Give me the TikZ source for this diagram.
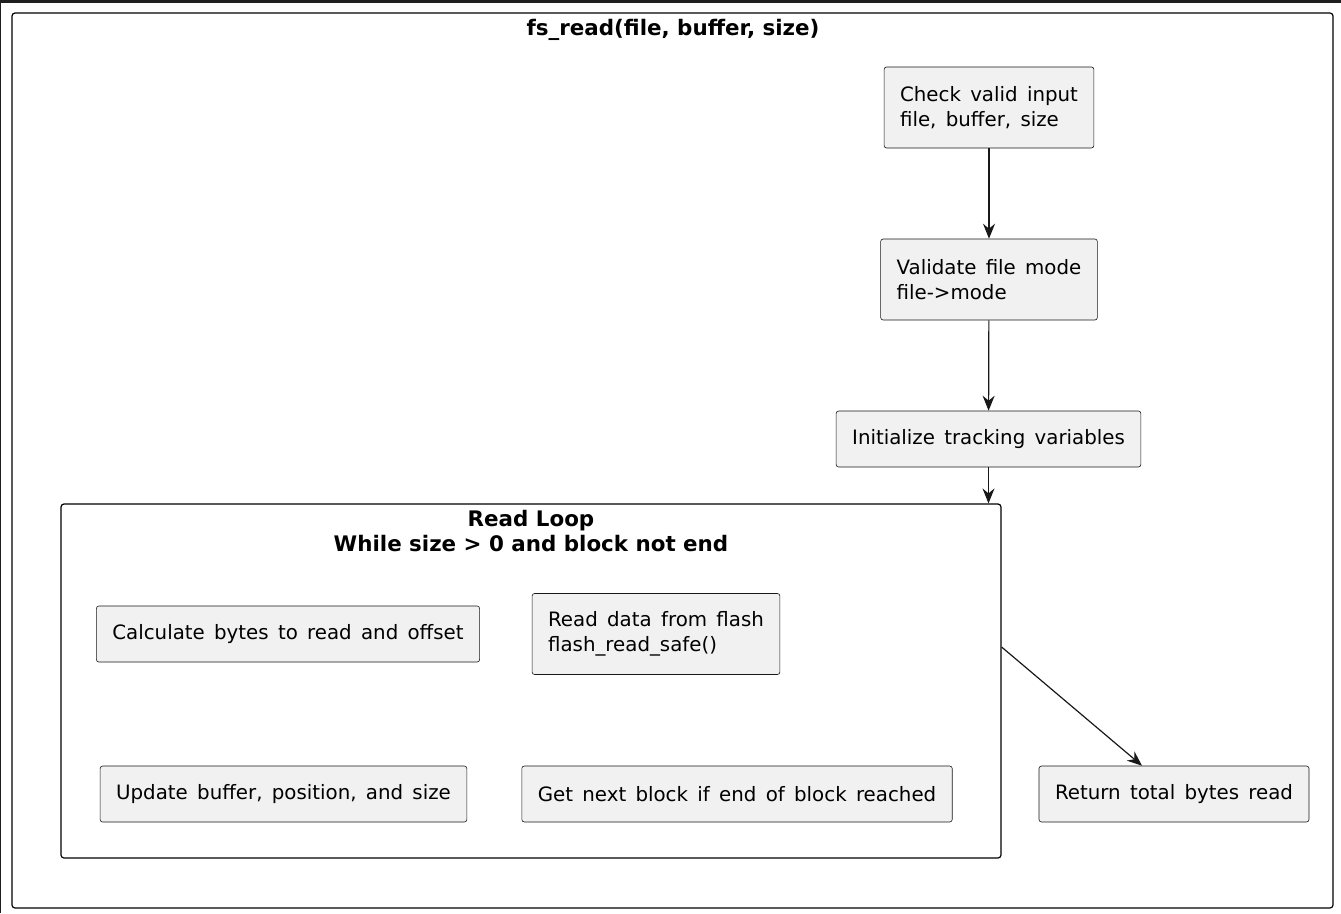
\documentclass[tikz,border=0pt]{standalone}
\usepackage{fontspec}
\setmainfont{DejaVu Sans}
\usetikzlibrary{arrows.meta,positioning}
\definecolor{actfill}{HTML}{F1F1F1}
\definecolor{actline}{HTML}{181818}
\newcommand\actfont{\fontsize{19.8}{25}\selectfont\setlength\spaceskip{9.3pt}}
\tikzset{
  act/.style={draw=actline, fill=actfill, line width=0.6pt, rounded corners=2.5pt, inner xsep=16pt, align=left, font=\actfont, minimum height=56pt},
  act2/.style={act, minimum height=81pt},
  frame/.style={draw=black, line width=1.2pt, rounded corners=3pt},
  flow/.style={-{Stealth[length=15pt,width=12pt,inset=5pt]}, line width=1.2pt, actline},
  ttl/.style={font=\bfseries\fontsize{21.4}{25}\selectfont, align=center}
}
\begin{document}
\begin{tikzpicture}[x=1pt,y=-1pt]
\useasboundingbox (0,0) rectangle (1341,913);
\fill[black!88] (0,0) rectangle (1341,3);
\fill[black!88] (0,0) rectangle (1,913);
\draw[frame] (12,13) rectangle (1333,908);
\node[ttl] (title) at (673,30) {fs\_read(file, buffer, size)};
\node[frame, minimum width=940pt, minimum height=354pt, inner sep=0pt] (loop) at (531,681) {};
\node[ttl] (looptitle) at (531,531.5) {Read Loop\\While size > 0 and block not end};
\node[act2] (chk) at (989,107.5) {Check valid input\\file, buffer, size};
\node[act2] (val) at (989,279.5) {Validate file mode\\file->mode};
\node[act] (init) at (988.5,439) {Initialize tracking variables};
\node[act] (calc) at (288,634) {Calculate bytes to read and offset};
\node[act2] (rdata) at (656,634) {Read data from flash\\flash\_read\_safe()};
\node[act] (upd) at (283.5,794) {Update buffer, position, and size};
\node[act] (nxt) at (737,794) {Get next block if end of block reached};
\node[act] (ret) at (1174,794) {Return total bytes read};
\draw[flow] (chk) -- (val);
\draw[flow] (val) -- (init);
\draw[flow] (init.south) -- (init.south |- loop.north);
\draw[flow] ([yshift=34pt]loop.east) -- ([xshift=-32pt]ret.north);
\end{tikzpicture}
\end{document}
